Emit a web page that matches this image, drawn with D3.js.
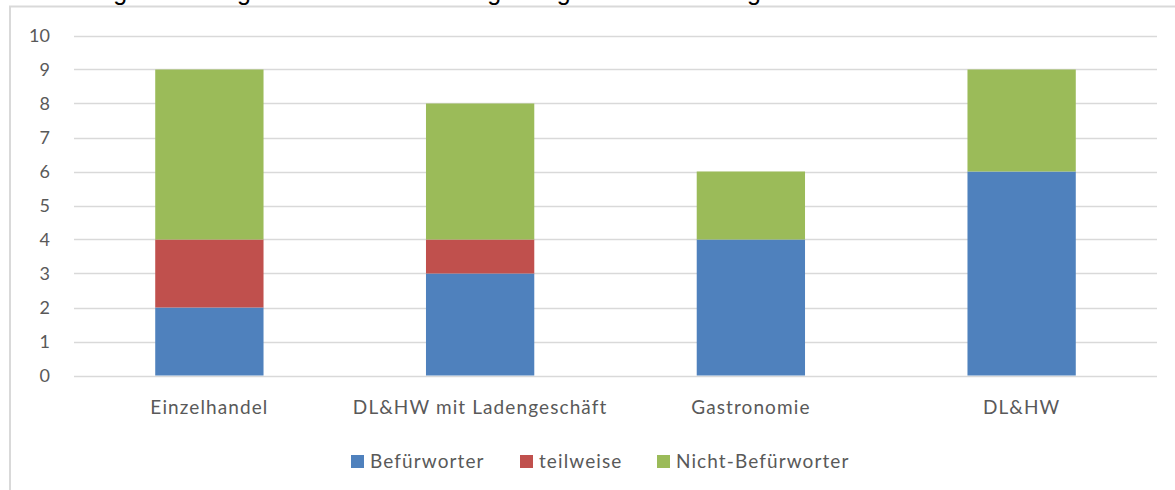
<!DOCTYPE html>
<html>
<head>
<meta charset="utf-8">
<script src="https://cdn.jsdelivr.net/npm/d3@7"></script>
<style>
  html, body { margin: 0; padding: 0; background: #fff; }
  svg { display: block; }
  .tick-label { font-family: Lato, "Open Sans", sans-serif; fill: #595959; }
</style>
</head>
<body>
<svg id="chart" width="1175" height="490"></svg>
<script>
// data
const categories = ['Einzelhandel', 'DL&HW mit Ladengeschäft', 'Gastronomie', 'DL&HW'];
const seriesNames = ['Befürworter', 'teilweise', 'Nicht-Befürworter'];
const befuerworter = [2, 3, 4, 6];
const teilweise = [2, 1, 0, 0];
const nichtBefuerworter = [5, 4, 2, 3];
const yTicks = [0, 1, 2, 3, 4, 5, 6, 7, 8, 9, 10];
const colors = ['#4F81BD', '#C0504D', '#9BBB59'];
const title = 'Verteilung der Befragten nach Branchenzugehörigkeit und Meinung';

const rows = categories.map((c, i) => ({
  cat: c,
  'Befürworter': befuerworter[i],
  'teilweise': teilweise[i],
  'Nicht-Befürworter': nichtBefuerworter[i]
}));

const svg = d3.select('#chart');
const W = 1175, H = 490;
const plot = { left: 74, right: 1157, top: 35.5, bottom: 375.5 };

// title, mostly clipped off the top like the reference
svg.append('text')
  .attr('x', 16)
  .attr('y', 0)
  .attr('font-family', '"Liberation Sans", Arial, sans-serif')
  .attr('font-size', 25)
  .attr('fill', '#000')
  .text(title);

// chart frame
svg.append('rect')
  .attr('x', 10)
  .attr('y', 6.5)
  .attr('width', W + 20)
  .attr('height', H + 20)
  .attr('fill', '#fff')
  .attr('stroke', '#d9d9d9')
  .attr('stroke-width', 2);

const x = d3.scaleBand()
  .domain(categories)
  .range([plot.left, plot.right])
  .paddingInner(0.6)
  .paddingOuter(0.3);

const y = d3.scaleLinear()
  .domain([0, 10])
  .range([plot.bottom, plot.top]);

// gridlines
svg.append('g')
  .selectAll('line')
  .data(yTicks)
  .join('line')
  .attr('x1', plot.left)
  .attr('x2', plot.right)
  .attr('y1', d => Math.round(y(d)) + 0.5)
  .attr('y2', d => Math.round(y(d)) + 0.5)
  .attr('stroke', '#d9d9d9')
  .attr('stroke-width', 1.4);

// y labels
svg.append('g')
  .selectAll('text')
  .data(yTicks)
  .join('text')
  .attr('class', 'tick-label')
  .attr('x', 50)
  .attr('y', d => y(d))
  .attr('dy', '0.35em')
  .attr('text-anchor', 'end')
  .attr('font-size', 18)
  .text(d => d);

// stacked bars
const stack = d3.stack().keys(seriesNames)(rows);
svg.append('g')
  .selectAll('g')
  .data(stack)
  .join('g')
  .attr('fill', (d, i) => colors[i])
  .selectAll('rect')
  .data(d => d)
  .join('rect')
  .attr('x', d => x(d.data.cat))
  .attr('width', x.bandwidth())
  .attr('y', d => y(d[1]))
  .attr('height', d => y(d[0]) - y(d[1]));

// x labels
svg.append('g')
  .selectAll('text')
  .data(categories)
  .join('text')
  .attr('class', 'tick-label')
  .attr('x', d => x(d) + x.bandwidth() / 2)
  .attr('y', 414)
  .attr('text-anchor', 'middle')
  .attr('font-size', 19)
  .attr('letter-spacing', 1.1)
  .text(d => d);

// legend
const legendX = [351, 520, 657];
const legend = svg.append('g')
  .selectAll('g')
  .data(seriesNames)
  .join('g')
  .attr('transform', (d, i) => `translate(${legendX[i]},455)`);
legend.append('rect')
  .attr('width', 13)
  .attr('height', 13)
  .attr('fill', (d, i) => colors[i]);
legend.append('text')
  .attr('class', 'tick-label')
  .attr('x', 19)
  .attr('y', 13)
  .attr('font-size', 19)
  .attr('letter-spacing', 1.1)
  .text(d => d);
</script>
</body>
</html>
